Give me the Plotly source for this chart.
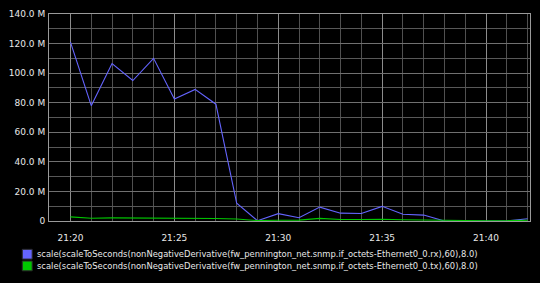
import plotly.graph_objects as go
import pandas as pd

times = pd.date_range("2024-01-01 21:20", "2024-01-01 21:42", freq="1min")
rx_values = [121.0, 78.0, 106.5, 95.0, 110.0, 82.5, 89.0, 79.0, 12.0, 0.2, 5.0, 2.2,
             9.4, 5.3, 5.1, 9.9, 4.6, 4.0, 0.0, 0.0, 0.0, 0.0, 1.5]
tx_values = [2.8, 1.9, 2.1, 2.0, 2.3, 1.8, 1.9, 1.7, 1.4, 0.3, 0.5, 0.6,
             1.8, 1.0, 1.0, 1.2, 0.8, 0.6, 0.2, 0.1, 0.2, 0.2, 0.5]
series_names = [
    "scale(scaleToSeconds(nonNegativeDerivative(fw_pennington_net.snmp.if_octets-Ethernet0_0.rx),60),8.0)",
    "scale(scaleToSeconds(nonNegativeDerivative(fw_pennington_net.snmp.if_octets-Ethernet0_0.tx),60),8.0)",
]
series_colors = ["#6464ff", "#00c800"]
y_tick_vals = [0, 20e6, 40e6, 60e6, 80e6, 100e6, 120e6, 140e6]
y_tick_text = ["0", "20.0 M", "40.0 M", "60.0 M", "80.0 M", "100.0 M", "120.0 M", "140.0 M"]

FONT = "DejaVu Sans"

fig = go.Figure()
for vals, name, col in zip([rx_values, tx_values], series_names, series_colors):
    fig.add_trace(go.Scatter(x=times, y=[v * 1e6 for v in vals], mode="lines", name=name,
                             line=dict(color=col, width=1.1), showlegend=False))

fig.update_layout(
    width=540, height=283,
    margin=dict(l=45, r=9, t=9, b=62),
    paper_bgcolor="black", plot_bgcolor="black",
    font=dict(family=FONT, size=9, color="#e8e8e8"),
    xaxis=dict(
        range=[pd.Timestamp("2024-01-01 21:18:58"), pd.Timestamp("2024-01-01 21:42:07")],
        tickformat="%H:%M", dtick=300000, tick0=pd.Timestamp("2024-01-01 21:20"),
        showgrid=True, gridcolor="#8c8c8c", gridwidth=1,
        minor=dict(dtick=60000, showgrid=True, gridcolor="#505050", gridwidth=1),
        showline=True, linecolor="#9a9a9a", linewidth=1, mirror=True,
        ticks="", ticklen=0, zeroline=False, fixedrange=True, ticklabelstandoff=8,
        tickfont=dict(family=FONT, size=9, color="#e8e8e8"),
    ),
    yaxis=dict(
        range=[0, 140e6], tickvals=y_tick_vals, ticktext=y_tick_text,
        showgrid=True, gridcolor="#707070", gridwidth=1,
        minor=dict(dtick=10e6, tick0=0, showgrid=True, gridcolor="#585858", gridwidth=1),
        showline=True, linecolor="#9a9a9a", linewidth=1, mirror=True,
        ticks="", ticklen=0, zeroline=False, fixedrange=True, ticklabelstandoff=1,
        tickfont=dict(family=FONT, size=9, color="#e8e8e8"),
    ),
)

# Manual legend (Graphite style: coloured squares + text)
legend_rows_y = [255, 267]
for name, col, ycen in zip(series_names, series_colors, legend_rows_y):
    fig.add_shape(type="rect", xref="paper", yref="paper",
                  x0=(18 - 45) / 486, x1=(28 - 45) / 486,
                  y0=(221 - (ycen + 5)) / 212, y1=(221 - (ycen - 5)) / 212,
                  fillcolor=col, line=dict(color="#2a2a2a", width=1))
    fig.add_annotation(text=name, xref="paper", yref="paper",
                       x=(31 - 45) / 486, y=(221 - ycen) / 212,
                       xanchor="left", yanchor="middle", showarrow=False,
                       font=dict(family=FONT, size=8.4, color="#e8e8e8"))

fig.write_html("out.html")
